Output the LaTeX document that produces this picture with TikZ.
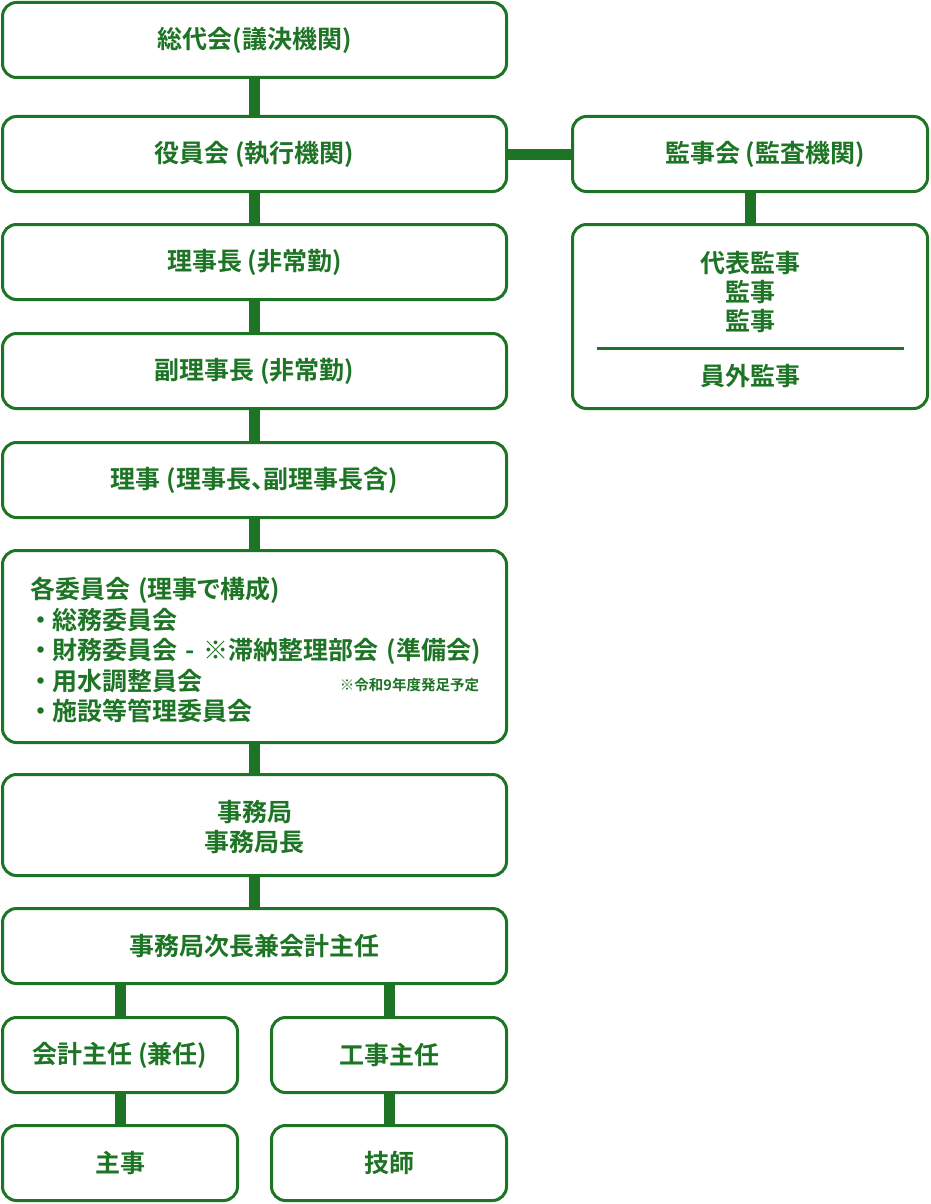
\documentclass[tikz,border=0pt]{standalone}
\usepackage{fontspec}
\setmainfont{Noto Sans CJK JP}[BoldFont=* Bold, RawFeature=+palt]
\usetikzlibrary{positioning}
\definecolor{orggreen}{RGB}{29,116,37}
\newcommand{\bul}{\makebox[0.9em][c]{・}}

\begin{document}
\begin{tikzpicture}[x=1pt, y=-1pt,
    unitbox/.style={draw=orggreen, line width=3pt, rounded corners=14pt, fill=white,
        text=orggreen, font=\fontsize{25}{30}\selectfont\bfseries, inner sep=0pt,
        minimum width=504pt, minimum height=75pt, align=center},
    smallbox/.style={unitbox, minimum width=235pt},
    link/.style={draw=orggreen, line width=11pt}]
    \useasboundingbox (0,0) rectangle (930,1204);

    % Main column
    \node[unitbox] (assembly) at (254.5,40) {総代会(議決機関)};
    \node[unitbox] (board) at (254.5,154) {役員会 (執行機関)};
    \node[unitbox] (chair) at (254.5,262) {理事長 (非常勤)};
    \node[unitbox] (vicechair) at (254.5,371) {副理事長 (非常勤)};
    \node[unitbox] (directors) at (254.5,480) {理事 (理事長、副理事長含)};

    % Committees
    \node[unitbox, minimum height=192pt, align=left, text width=449pt,
        font=\fontsize{25}{30.5}\selectfont\bfseries] (committees) at (254.5,646.5)
        {\rule{0pt}{29pt}各委員会 (理事で構成)\\
         \bul 総務委員会\\
         \mbox{\bul 財務委員会 - ※滞納整理部会 (準備会)}\\
         \bul 用水調整員会\hfill{\fontsize{14.5}{14.5}\selectfont ※令和9年度発足予定}\hspace*{4pt}\\
         \bul 施設等管理委員会};

    % Office
    \node[unitbox, minimum height=101pt] (office) at (254.5,825) {\rule{0pt}{26pt}事務局\\事務局長};
    \node[unitbox] (deputy) at (254.5,946) {事務局次長兼会計主任};
    \node[smallbox] (accounting) at (120,1055) {会計主任 (兼任)};
    \node[smallbox] (works) at (389,1055) {工事主任};
    \node[smallbox] (clerk) at (120,1163) {主事};
    \node[smallbox] (engineer) at (389,1163) {技師};

    % Audit
    \node[unitbox, minimum width=355pt] (audit) at (750,154) {\hspace*{1.2em}監事会 (監査機関)};
    \node[unitbox, minimum width=355pt, minimum height=184pt,
        font=\fontsize{25}{29}\selectfont\bfseries] (auditors) at (750,316.5)
        {\rule{0pt}{28pt}代表監事\\監事\\監事\\[26pt]員外監事};
    \draw[orggreen, line width=3pt] (597,348) -- (904,348);

    % Links
    \draw[link] (assembly) -- (board);
    \draw[link] (board) -- (chair);
    \draw[link] (chair) -- (vicechair);
    \draw[link] (vicechair) -- (directors);
    \draw[link] (directors) -- (committees);
    \draw[link] (committees) -- (office);
    \draw[link] (office) -- (deputy);
    \draw[link] (deputy.south -| accounting) -- (accounting);
    \draw[link] (deputy.south -| works) -- (works);
    \draw[link] (accounting) -- (clerk);
    \draw[link] (works) -- (engineer);
    \draw[link] (board) -- (audit);
    \draw[link] (audit) -- (auditors);
\end{tikzpicture}
\end{document}
